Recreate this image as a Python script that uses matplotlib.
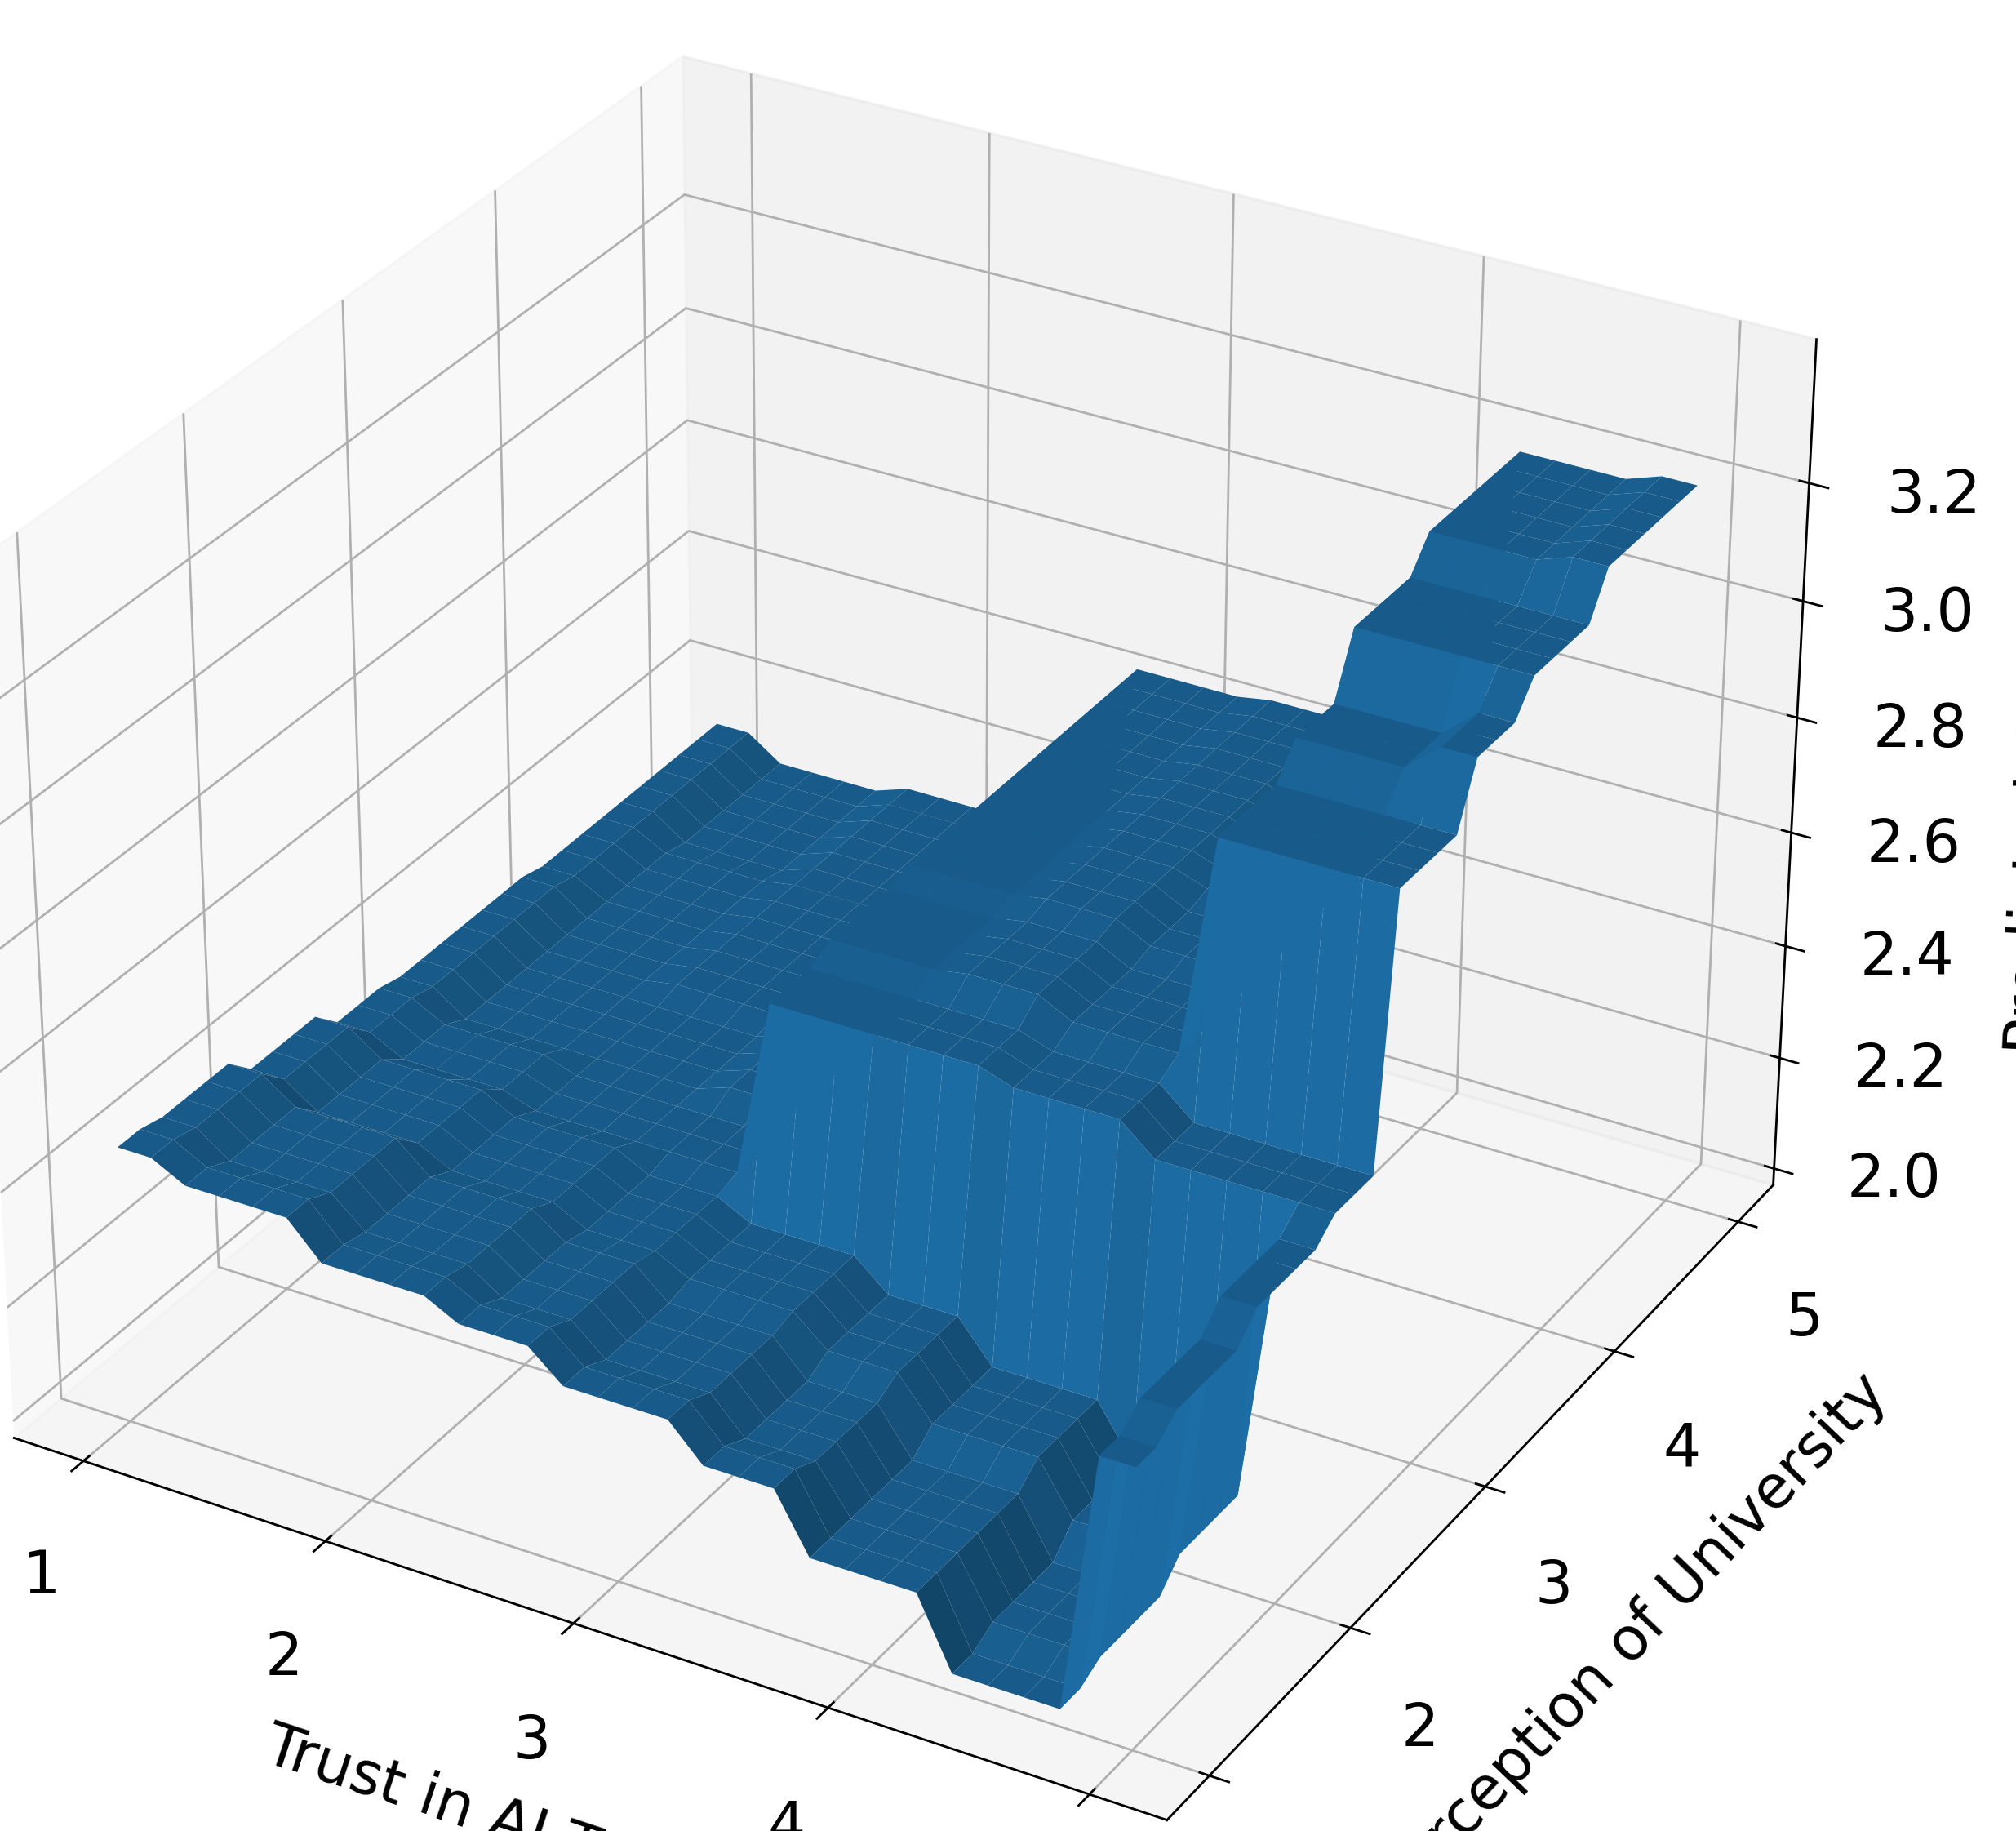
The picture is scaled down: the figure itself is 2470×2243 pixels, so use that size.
import numpy as np
import matplotlib
matplotlib.use("Agg")
import matplotlib.pyplot as plt

trust_levels = [1.0, 1.5, 2.0, 2.5, 3.0, 3.5, 4.0, 4.5, 5.0]
perception_levels = [1.0, 1.5, 2.0, 2.5, 3.0, 3.5, 4.0, 4.5, 5.0]
# rows: perception, cols: trust
confidence = [
    [2.45, 2.42, 2.36, 2.33, 2.28, 2.22, 2.12, 2.00, 2.45],
    [2.44, 2.40, 2.35, 2.31, 2.26, 2.20, 2.12, 2.02, 2.48],
    [2.40, 2.36, 2.33, 2.30, 2.27, 2.22, 2.15, 2.06, 2.52],
    [2.36, 2.33, 2.31, 2.31, 2.62, 2.62, 2.60, 2.55, 2.55],
    [2.35, 2.31, 2.31, 2.33, 2.64, 2.65, 2.62, 3.00, 3.00],
    [2.35, 2.31, 2.32, 2.33, 2.65, 2.66, 2.63, 3.05, 3.10],
    [2.34, 2.31, 2.32, 2.34, 2.65, 2.66, 2.64, 3.15, 3.15],
    [2.34, 2.30, 2.32, 2.34, 2.65, 2.66, 2.64, 3.20, 3.22],
    [2.34, 2.30, 2.32, 2.34, 2.65, 2.66, 2.64, 3.20, 3.22],
]

tx = np.array(trust_levels)
py = np.array(perception_levels)
Zt = np.array(confidence)
fx = np.linspace(1, 5, 30)
fy = np.linspace(1, 5, 30)
ix = np.abs(fx[:, None] - tx[None, :]).argmin(axis=1)
iy = np.abs(fy[:, None] - py[None, :]).argmin(axis=1)
X, Y = np.meshgrid(fx, fy)
Z = Zt[np.ix_(iy, ix)]

plt.rcParams['font.size'] = 21
fig = plt.figure(figsize=(9.88, 8.972), dpi=250)
ax = fig.add_subplot(111, projection='3d')
ax.set_position([-0.04, 0.0, 0.96, 1.0])
ax.set_box_aspect(None, zoom=1.12)
ax.plot_surface(X, Y, Z, color='#1f77b4')
ax.set_zlim(1.97, 3.44)
ax.set_xlabel('Trust in AI Tools', labelpad=22)
ax.set_ylabel('Perception of University', labelpad=22)
ax.set_zlabel('Predicted Confidence', labelpad=28)
ax.set_xticks([1, 2, 3, 4, 5])
ax.set_yticks([1, 2, 3, 4, 5])
ax.set_zticks([2.0, 2.2, 2.4, 2.6, 2.8, 3.0, 3.2])
ax.tick_params(axis='x', pad=12)
ax.tick_params(axis='y', pad=12)
ax.tick_params(axis='z', pad=16)
fig.savefig('out.png')
